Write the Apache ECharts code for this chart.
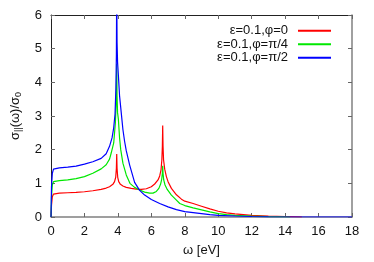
<!DOCTYPE html>
<html><head><meta charset="utf-8">
<script src="https://cdn.jsdelivr.net/npm/echarts@6/dist/echarts.min.js"></script>
<style>html,body{margin:0;padding:0;background:#fff}#c{width:374px;height:262px}</style>
</head><body><div id="c"></div>
<script>
const seriesNames = ['ε=0.1,φ=0', 'ε=0.1,φ=π/4', 'ε=0.1,φ=π/2'];
const xTicks = [0, 2, 4, 6, 8, 10, 12, 14, 16, 18];
const yTicks = [0, 1, 2, 3, 4, 5, 6];

const redOmega = [0,0.03,0.08,0.15,0.25,0.5,1,1.5,2,2.5,3,3.3,3.5,3.7,3.8,3.87,3.91,3.93,3.95,3.99,4.05,4.15,4.3,4.5,4.8,5.1,5.4,5.7,6.0,6.2,6.4,6.5,6.58,6.63,6.66,6.68,6.70,6.73,6.8,6.9,7.0,7.2,7.5,7.8,8,8.5,9,9.5,10,10.5,11,12,13,14,15];
const redSigma = [0,0.35,0.6,0.68,0.7,0.71,0.72,0.73,0.75,0.78,0.82,0.86,0.9,0.97,1.05,1.18,1.45,1.87,1.45,1.18,1.05,0.97,0.92,0.88,0.85,0.83,0.82,0.84,0.9,0.98,1.1,1.22,1.4,1.7,2.1,2.72,2.1,1.7,1.42,1.2,1.05,0.85,0.66,0.53,0.47,0.4,0.32,0.24,0.17,0.12,0.09,0.05,0.03,0.015,0];

const greenOmega = [0,0.03,0.08,0.15,0.25,0.5,1,1.5,2,2.5,3,3.3,3.5,3.6,3.75,3.85,3.9,3.93,3.95,3.98,4.03,4.1,4.17,4.3,4.5,4.72,5.0,5.3,5.6,5.9,6.1,6.3,6.45,6.55,6.62,6.66,6.68,6.70,6.74,6.82,6.95,7.2,7.5,7.7,8,8.5,9,9.5,10,10.5,11,12,13,14.3];
const greenSigma = [0,0.6,0.95,1.05,1.07,1.08,1.1,1.14,1.2,1.3,1.43,1.55,1.72,1.9,2.2,2.8,3.4,4.55,3.6,3.1,2.9,2.35,2.0,1.6,1.25,1.0,0.88,0.8,0.74,0.71,0.71,0.76,0.85,0.97,1.12,1.3,1.52,1.3,1.1,0.95,0.82,0.65,0.5,0.4,0.34,0.27,0.21,0.15,0.1,0.07,0.05,0.025,0.01,0];

const blueOmega = [0,0.03,0.08,0.15,0.25,0.5,1,1.5,2,2.5,3,3.3,3.5,3.65,3.75,3.83,3.88,3.91,3.93,3.95,3.98,4.03,4.1,4.2,4.3,4.4,4.5,4.7,5.0,5.3,5.6,6.0,6.5,7,7.5,8,8.5,9,9.5,10,11,12,13,14,18];
const blueSigma = [0,0.9,1.3,1.42,1.45,1.46,1.48,1.51,1.57,1.64,1.74,1.88,2.1,2.35,2.65,3.06,3.8,4.8,7,5.2,4.6,4.2,3.6,3.1,2.6,2.25,1.97,1.55,1.03,0.79,0.65,0.52,0.4,0.3,0.22,0.16,0.13,0.1,0.07,0.05,0.03,0.015,0.005,0,0];

const omegaSets = [redOmega, greenOmega, blueOmega];
const sigmaSets = [redSigma, greenSigma, blueSigma];
const colors = ['#ff0000', '#00e800', '#0000ff'];

const font = 'Liberation Sans, Arial, sans-serif';
const chart = echarts.init(document.getElementById('c'), null, {renderer: 'canvas'});

function axisBase(extra, lineColor, lineWidth) {
  return Object.assign({
    type: 'value',
    axisLine: {show: true, onZero: false, lineStyle: {color: lineColor, width: lineWidth}},
    axisTick: {show: true, inside: true, length: 4, lineStyle: {color: '#666', width: 1}},
    splitLine: {show: false},
    axisLabel: {color: '#111', fontSize: 13, fontFamily: font}
  }, extra);
}

chart.setOption({
  animation: false,
  backgroundColor: '#fff',
  grid: {left: 51, right: 22, top: 15, bottom: 39.5, containLabel: false},
  legend: {
    orient: 'vertical', right: 38, top: 19, align: 'right',
    itemWidth: 33, itemHeight: 2, itemGap: 0,
    icon: 'rect',
    textStyle: {fontSize: 13, lineHeight: 13.5, fontFamily: font, color: '#111', padding: [0, 5, 0, 0]},
    data: seriesNames
  },
  xAxis: [
    axisBase({min: xTicks[0], max: xTicks[xTicks.length - 1], interval: 2, position: 'bottom',
      name: 'ω [eV]', nameLocation: 'middle', nameGap: 27,
      nameTextStyle: {fontSize: 13, fontFamily: font, color: '#111'},
      axisLabel: {color: '#111', fontSize: 13, fontFamily: font, margin: 8}}, '#808080', 1.5),
    axisBase({min: xTicks[0], max: xTicks[xTicks.length - 1], interval: 2, position: 'top',
      axisLabel: {show: false}}, '#222', 1)
  ],
  yAxis: [
    axisBase({min: yTicks[0], max: yTicks[yTicks.length - 1], interval: 1, position: 'left',
      name: 'σ{s|||}(ω)/σ{s|0}', nameLocation: 'middle', nameGap: 28,
      nameTextStyle: {fontSize: 13, fontFamily: font, color: '#111',
        rich: {s: {fontSize: 9, fontFamily: font, color: '#111', verticalAlign: 'bottom', padding: [6, 0, 0, 0]}}},
      axisLabel: {color: '#111', fontSize: 13, fontFamily: font, margin: 9}}, '#222', 1),
    axisBase({min: yTicks[0], max: yTicks[yTicks.length - 1], interval: 1, position: 'right',
      axisLabel: {show: false}}, '#808080', 1.5)
  ],
  series: seriesNames.map((n, i) => ({
    name: n, type: 'line', showSymbol: false, symbol: 'none', clip: true,
    xAxisIndex: 0, yAxisIndex: 0,
    lineStyle: {color: colors[i], width: 1.2},
    itemStyle: {color: colors[i]},
    data: omegaSets[i].map((x, k) => [x, sigmaSets[i][k]])
  }))
});
</script></body></html>
